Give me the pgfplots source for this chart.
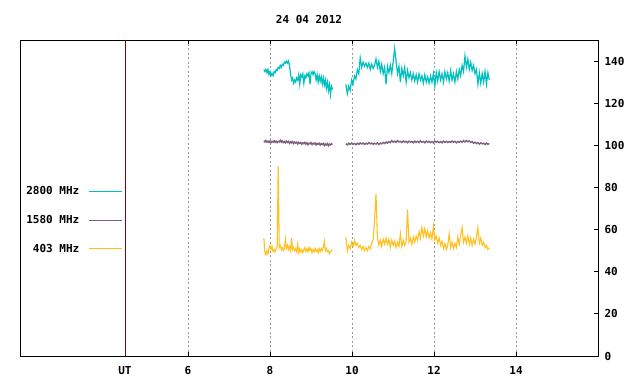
\documentclass[border=0pt]{standalone}
\usepackage{pgfplots}
\pgfplotsset{compat=1.18}
\usepackage{pgfplotstable}
\usepackage{fontspec}
\setmainfont{DejaVu Sans Mono}
\definecolor{cc}{RGB}{0,192,192}
\definecolor{pp}{RGB}{128,96,128}
\definecolor{oo}{RGB}{255,192,32}
\definecolor{ut}{RGB}{139,0,0}
\pgfplotstableread{
h c p o
7.850 136 102.2 56
7.875 135 101.6 49
7.900 136 102.3 48
7.925 134.5 101.5 50
7.950 136 102.0 48.5
7.975 133.5 101.4 51
8.000 135 102.1 52.5
8.025 133 101.3 50.5
8.050 134 101.9 52
8.075 133 101.5 49.5
8.100 135 102.2 50.5
8.125 134.5 101.4 49.5
8.150 136 102.0 51
8.175 135.5 101.3 52
8.200 137 101.9 90
8.225 136.5 101.6 51.5
8.250 138 102.4 52.5
8.275 137 101.5 50.5
8.300 138.5 102.1 51.5
8.325 138 101.3 50
8.350 139.5 101.8 51
8.375 139 101.2 55.5
8.400 140 102.0 51
8.425 139 101.4 52.5
8.450 140 101.9 50.5
8.475 138 101.0 52
8.500 134 101.7 50
8.525 131 101.2 56
8.550 132 101.8 50.5
8.575 129.5 100.9 51.5
8.600 131 101.6 50
8.625 130 101.1 51
8.650 132 101.5 49.5
8.675 131 100.6 53
8.700 133.5 101.4 49
8.725 129 100.9 51
8.750 133.5 101.3 49.5
8.775 132.5 100.5 50.5
8.800 134 101.2 49
8.825 129.5 100.8 50.5
8.850 133 101.4 51.5
8.875 132 100.6 49.5
8.900 134 101.2 51
8.925 133 100.3 49.5
8.950 134.5 101.0 51.5
8.975 129 100.7 50
9.000 134 101.3 51
9.025 135 100.4 49
9.050 133.5 101.0 50.5
9.075 135 100.6 49.5
9.100 134 101.1 51
9.125 131 100.2 49.5
9.150 133.5 100.9 50.5
9.175 130 100.5 49
9.200 133 101.0 51
9.225 130.5 100.1 49.5
9.250 132.5 100.8 51
9.275 129 100.4 50
9.300 132 100.9 51.5
9.325 128.5 99.9 54.5
9.350 131 100.7 50
9.375 127 100.2 51
9.400 130 100.8 49.5
9.425 126 99.8 50
9.450 129 100.6 48.5
9.475 124 100.2 49.5
9.500 128 100.7 50
9.525 126.5 100.4 50.5
9.700 nan nan nan
9.850 129 100.8 56.5
9.885 124.5 100.2 50
9.920 128 101.0 52.5
9.955 126 100.4 51
9.990 131 101.1 54
10.025 129 100.5 52
10.060 133 100.9 55
10.095 131.5 100.3 52.5
10.130 136 101.0 53.5
10.165 134 100.5 51.5
10.200 141.5 101.2 52.5
10.235 137 100.6 50.5
10.270 139.5 101.1 52
10.305 137.5 100.4 50
10.340 139 101.0 51.5
10.375 137 100.6 50
10.410 139 101.3 52
10.445 136 100.7 51
10.480 138.5 101.1 53.5
10.515 136.5 100.5 55
10.550 138 101.0 64.5
10.585 141 100.6 77
10.620 137 101.2 56
10.655 140 100.4 52.5
10.690 135 101.1 55
10.725 138.5 100.7 52
10.760 134 101.4 55.5
10.795 137 100.9 53
10.830 129 101.6 56
10.865 137.5 101.0 53
10.900 134.5 101.8 55.5
10.935 138 101.3 51.5
10.970 134 102.3 55
11.005 140 101.5 52.5
11.040 146 102.0 54.5
11.075 140 101.4 51.5
11.110 134 102.2 54
11.145 137.5 101.6 52
11.180 130 101.9 58
11.215 136.5 101.3 52
11.250 133 102.1 55
11.285 137 101.5 52.5
11.320 130 101.9 54.5
11.355 135.5 101.2 69.5
11.390 132 102.0 54
11.425 134.5 101.5 56
11.460 131 101.8 53
11.495 134 101.2 56.5
11.530 130.5 102.0 54
11.565 133.5 101.4 57
11.600 130 101.9 55
11.635 134 101.3 59
11.670 131 102.1 56
11.705 133 101.5 61
11.740 129.5 101.8 57
11.775 133.5 101.2 60.5
11.810 130 102.0 56.5
11.845 132.5 101.4 59.5
11.880 129.5 101.9 56
11.915 133 101.3 58.5
11.950 130 101.8 55.5
11.985 134 101.2 61.5
12.020 128 102.0 55
12.055 134.5 101.5 57
12.090 130.5 101.9 53.5
12.125 135 101.3 56
12.160 131 101.8 52.5
12.195 134 101.2 54.5
12.230 130 102.0 51
12.265 135 101.4 53.5
12.300 131.5 101.9 50.5
12.335 134.5 101.3 52.5
12.370 130.5 101.8 58
12.405 135.5 101.4 51.5
12.440 131 102.0 54
12.475 134 101.5 51
12.510 130 101.9 53.5
12.545 135 101.2 51.5
12.580 131.5 101.8 56.5
12.615 136 101.4 53
12.650 133 102.0 57
12.685 138 101.5 61
12.720 135 102.2 54
12.755 142.5 101.6 56.5
12.790 137 102.3 53.5
12.825 141 101.7 57
12.860 136 102.1 53
12.895 139.5 101.4 56
12.930 135.5 101.8 52.5
12.965 138 101.0 55.5
13.000 134 101.5 53
13.035 136 100.8 56.5
13.070 129 101.3 61
13.105 134.5 100.6 53.5
13.140 129.5 101.2 56
13.175 134 100.7 52.5
13.210 130 101.0 54
13.245 135 100.4 51.5
13.280 129 101.1 52.5
13.315 134.5 100.5 50.5
13.350 131 100.9 51.5
}\data
\newcommand{\lblfont}{\fontsize{11}{13}\selectfont\bfseries}
\begin{document}
\begin{tikzpicture}[x=1pt,y=1pt]
\path[use as bounding box] (0pt,0pt) rectangle (640pt,384pt);
\begin{axis}[
  at={(20pt,28pt)}, anchor=south west,
  scale only axis, width=578pt, height=316pt,
  xmin=1.902, xmax=16.0, ymin=0, ymax=150,
  axis line style={black, line width=0.8pt},
  xtick={6,8,10,12,14},
  extra x ticks={4.463}, extra x tick labels={UT},
  extra x tick style={grid=none, major tick length=0pt},
  xmajorgrids,
  grid style={black!40, dash pattern=on 2pt off 2.5pt, line width=0.8pt},
  ytick={0,20,...,140},
  ytick pos=right, yticklabel pos=right,
  tick style={black, line width=0.8pt},
  major tick length=4pt,
  tick label style={font=\lblfont},
  /pgf/number format/assume math mode=true,
  xticklabel style={yshift=-7pt},
  yticklabel style={xshift=3pt},
  unbounded coords=jump,
  legend plot pos=right,
  legend cell align=right,
  legend style={at={(0.1775,0.43)}, anchor=east, draw=none, fill=none,
    font=\lblfont, row sep=15pt, inner sep=0pt},
  legend image code/.code={\path (0pt,0pt); \draw[#1, line width=0.8pt] (7pt,0pt) -- (40pt,0pt);},
]
\addplot[cc, line width=1.2pt, mark=none] table[x=h,y=c]{\data};
\addlegendentry{2800 MHz}
\addplot[pp, line width=1.4pt, mark=none] table[x=h,y=p]{\data};
\addlegendentry{1580 MHz}
\addplot[oo, line width=1.1pt, mark=none] table[x=h,y=o]{\data};
\addlegendentry{403 MHz}
\addplot[ut, line width=0.8pt, mark=none, forget plot] coordinates {(4.463,0) (4.463,150)};
\end{axis}
\node[font=\lblfont] at (309pt,365pt) {24 04 2012};
\end{tikzpicture}
\end{document}
